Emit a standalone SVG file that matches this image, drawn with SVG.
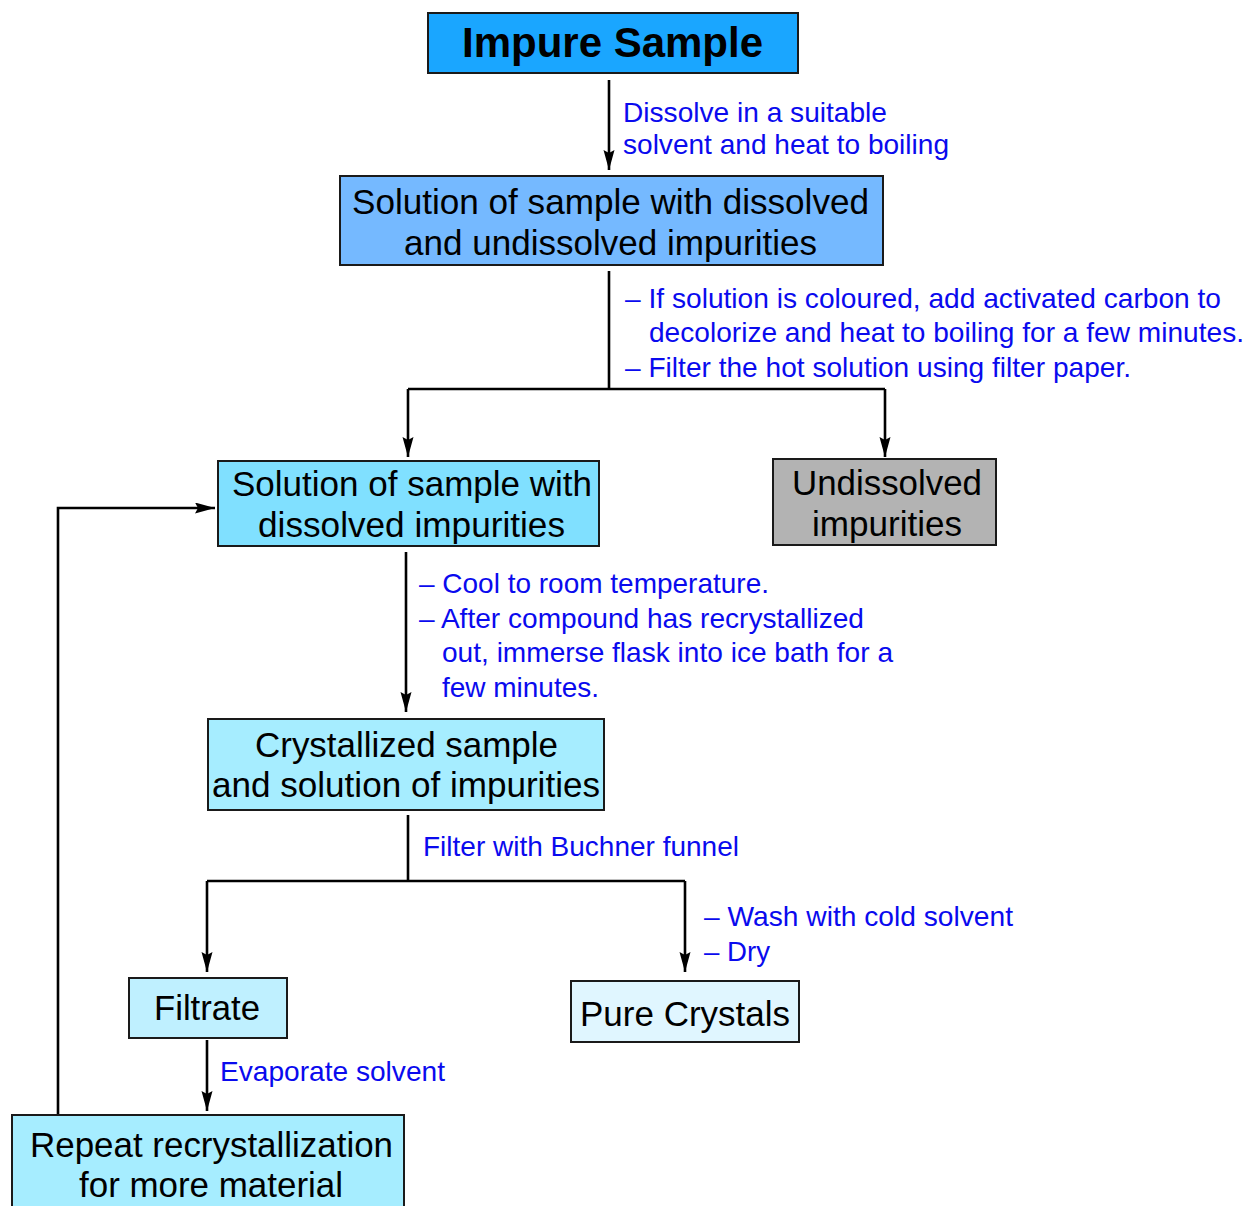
<svg xmlns="http://www.w3.org/2000/svg" width="1247" height="1206" viewBox="0 0 1247 1206">
<style>
.box{stroke:#1a1a1a;stroke-width:2}
.t{font-family:"Liberation Sans",Arial,sans-serif;font-size:35px;fill:#000;text-anchor:middle}
.lb{font-family:"Liberation Sans",Arial,sans-serif;font-size:28px;fill:#0a0aee}
.c{stroke:#000;stroke-width:2.6;fill:none}
</style>
<defs>
<marker id="ah" markerUnits="userSpaceOnUse" markerWidth="22" markerHeight="12" refX="20" refY="5.5" orient="auto">
<path d="M0,0 L20,5.5 L0,11 L3,5.5 z" fill="#000"/>
</marker>
</defs>
<rect width="1247" height="1206" fill="#fff"/>
<g id="connectors">
<line class="c" x1="609" y1="80" x2="609" y2="170" marker-end="url(#ah)"/>
<polyline class="c" points="609,271 609,389"/>
<polyline class="c" points="408,389 885,389"/>
<line class="c" x1="408" y1="389" x2="408" y2="457" marker-end="url(#ah)"/>
<line class="c" x1="885" y1="389" x2="885" y2="457" marker-end="url(#ah)"/>
<line class="c" x1="406" y1="552" x2="406" y2="712" marker-end="url(#ah)"/>
<polyline class="c" points="408,815 408,881"/>
<polyline class="c" points="207,881 685,881"/>
<line class="c" x1="207" y1="881" x2="207" y2="972" marker-end="url(#ah)"/>
<line class="c" x1="685" y1="881" x2="685" y2="972" marker-end="url(#ah)"/>
<line class="c" x1="207" y1="1040" x2="207" y2="1111" marker-end="url(#ah)"/>
<polyline class="c" points="58,1115 58,508 215,508" marker-end="url(#ah)"/>
</g>
<g id="labels">
<text class="lb" x="623" y="122" textLength="264" lengthAdjust="spacingAndGlyphs">Dissolve in a suitable</text>
<text class="lb" x="623" y="154" textLength="326" lengthAdjust="spacingAndGlyphs">solvent and heat to boiling</text>
<text class="lb" x="625" y="308" textLength="596" lengthAdjust="spacingAndGlyphs">– If solution is coloured, add activated carbon to</text>
<text class="lb" x="649" y="342" textLength="595" lengthAdjust="spacingAndGlyphs">decolorize and heat to boiling for a few minutes.</text>
<text class="lb" x="625" y="377" textLength="506" lengthAdjust="spacingAndGlyphs">– Filter the hot solution using filter paper.</text>
<text class="lb" x="419" y="593" textLength="350" lengthAdjust="spacingAndGlyphs">– Cool to room temperature.</text>
<text class="lb" x="419" y="628" textLength="445" lengthAdjust="spacingAndGlyphs">– After compound has recrystallized</text>
<text class="lb" x="442" y="662" textLength="451" lengthAdjust="spacingAndGlyphs">out, immerse flask into ice bath for a</text>
<text class="lb" x="442" y="697" textLength="157" lengthAdjust="spacingAndGlyphs">few minutes.</text>
<text class="lb" x="423" y="856" textLength="316" lengthAdjust="spacingAndGlyphs">Filter with Buchner funnel</text>
<text class="lb" x="704" y="926" textLength="309" lengthAdjust="spacingAndGlyphs">– Wash with cold solvent</text>
<text class="lb" x="704" y="961" textLength="66" lengthAdjust="spacingAndGlyphs">– Dry</text>
<text class="lb" x="220" y="1081" textLength="225" lengthAdjust="spacingAndGlyphs">Evaporate solvent</text>
</g>
<g id="impure">
<rect class="box" x="428" y="13" width="370" height="60" fill="#1aa6ff"/>
<text class="t" x="612.5" y="57" style="font-weight:bold;font-size:42px" textLength="301" lengthAdjust="spacingAndGlyphs">Impure Sample</text>
</g>
<g id="solution-all">
<rect class="box" x="340" y="176" width="543" height="89" fill="#75b9ff"/>
<text class="t" x="610.5" y="214" textLength="517" lengthAdjust="spacingAndGlyphs">Solution of sample with dissolved</text>
<text class="t" x="610.5" y="255" textLength="413" lengthAdjust="spacingAndGlyphs">and undissolved impurities</text>
</g>
<g id="solution-dissolved">
<rect class="box" x="218" y="461" width="381" height="85" fill="#80e0ff"/>
<text class="t" x="412" y="496" textLength="360" lengthAdjust="spacingAndGlyphs">Solution of sample with</text>
<text class="t" x="411.5" y="537" textLength="307" lengthAdjust="spacingAndGlyphs">dissolved impurities</text>
</g>
<g id="undissolved">
<rect class="box" x="773" y="459" width="223" height="86" fill="#b3b3b3"/>
<text class="t" x="887" y="495" textLength="190" lengthAdjust="spacingAndGlyphs">Undissolved</text>
<text class="t" x="887" y="536" textLength="150" lengthAdjust="spacingAndGlyphs">impurities</text>
</g>
<g id="crystallized">
<rect class="box" x="208" y="719" width="396" height="91" fill="#a6edff"/>
<text class="t" x="406.5" y="757" textLength="303" lengthAdjust="spacingAndGlyphs">Crystallized sample</text>
<text class="t" x="406" y="797" textLength="388" lengthAdjust="spacingAndGlyphs">and solution of impurities</text>
</g>
<g id="filtrate">
<rect class="box" x="129" y="978" width="158" height="60" fill="#bff0ff"/>
<text class="t" x="207" y="1020" textLength="106" lengthAdjust="spacingAndGlyphs">Filtrate</text>
</g>
<g id="pure">
<rect class="box" x="571" y="981" width="228" height="61" fill="#e0f6ff"/>
<text class="t" x="685" y="1026" textLength="210" lengthAdjust="spacingAndGlyphs">Pure Crystals</text>
</g>
<g id="repeat">
<rect class="box" x="12" y="1115" width="392" height="100" fill="#a6edff"/>
<text class="t" x="211.5" y="1157" textLength="363" lengthAdjust="spacingAndGlyphs">Repeat recrystallization</text>
<text class="t" x="211" y="1197" textLength="264" lengthAdjust="spacingAndGlyphs">for more material</text>
</g>
</svg>
